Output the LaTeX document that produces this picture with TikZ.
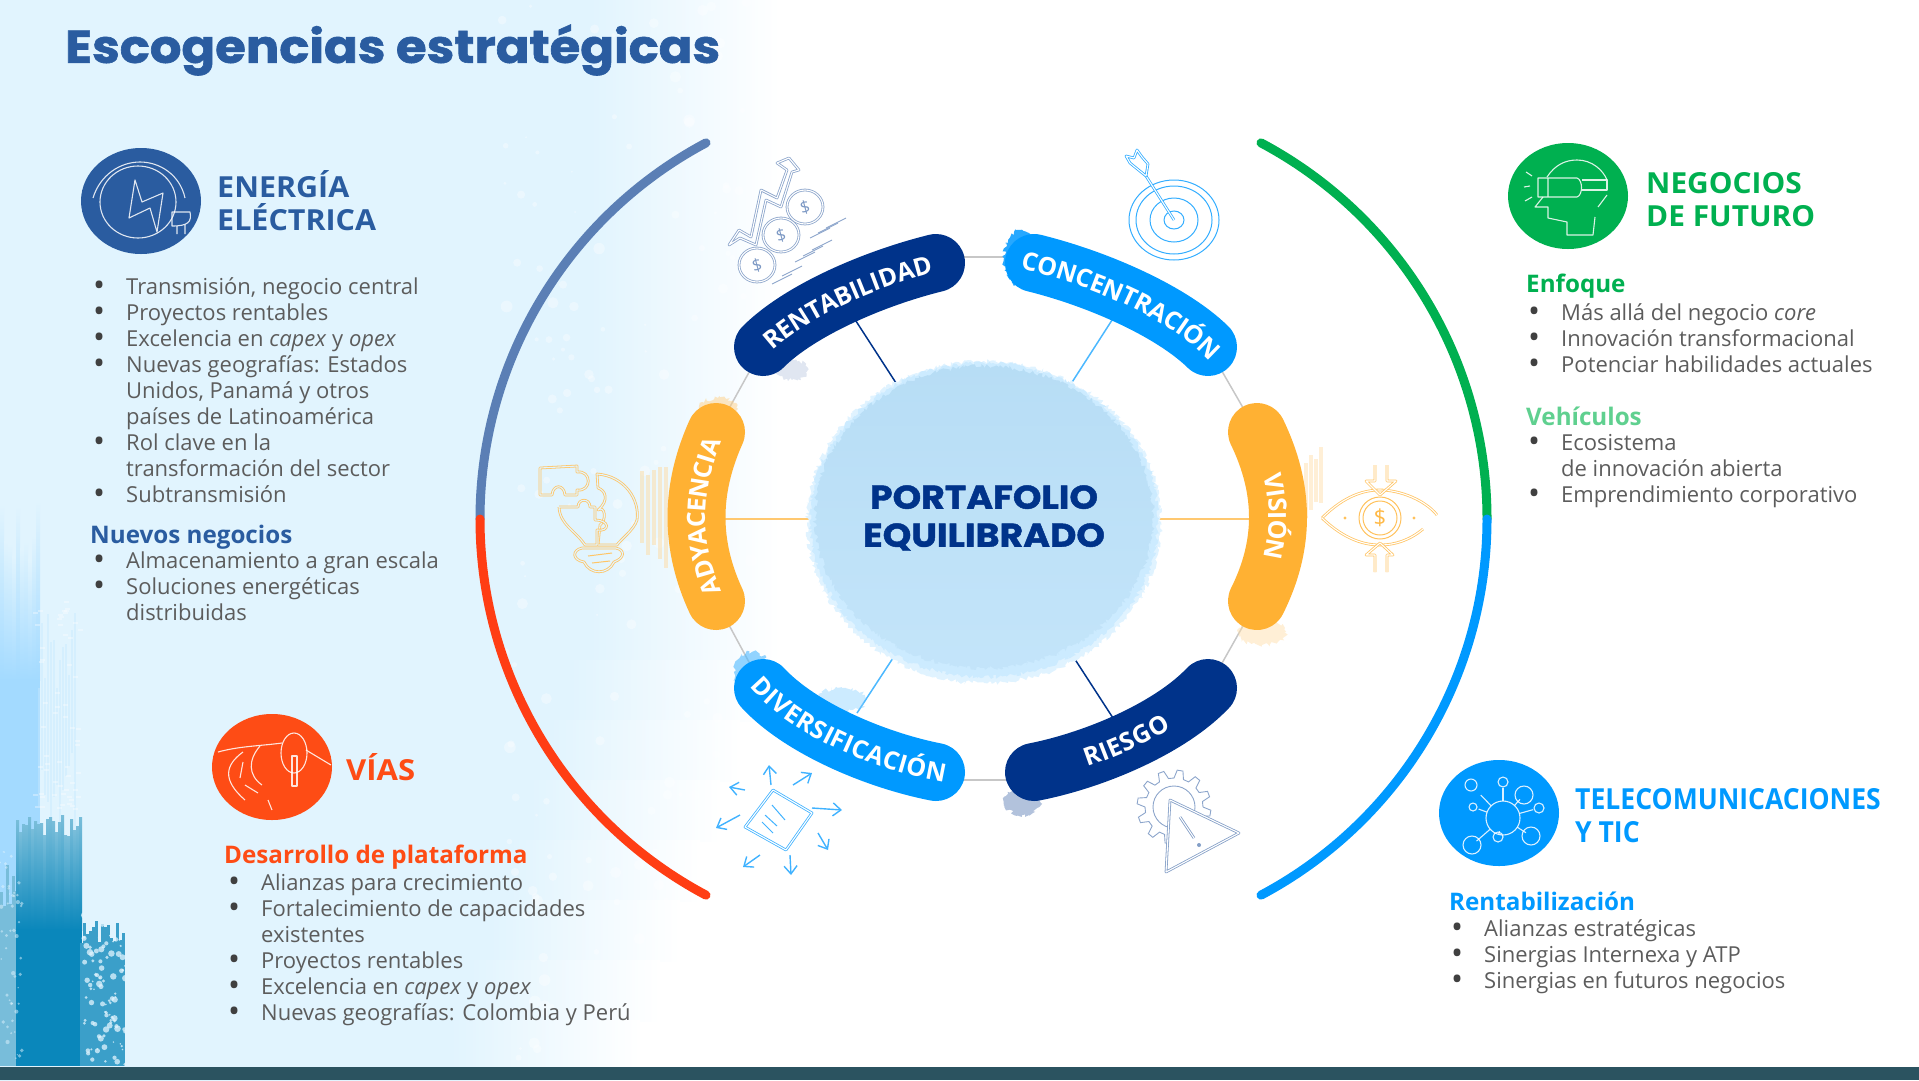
\documentclass[tikz,border=0pt]{standalone}
\usepackage{fontspec}
\setmainfont{Open Sans}
\newfontfamily\titulofont{Poppins}[BoldFeatures={FakeBold=1.3}]
\usetikzlibrary{shapes.geometric,decorations.pathmorphing,decorations.text,arrows.meta,calc}
\definecolor{lavado}{HTML}{E1F4FE}
\definecolor{azultitulo}{HTML}{2A5CA0}
\definecolor{azulgris}{HTML}{5B7FB5}
\definecolor{rojo}{HTML}{FF3D14}
\definecolor{rojovias}{HTML}{FE4C15}
\definecolor{verde}{HTML}{00B050}
\definecolor{verdeclaro}{HTML}{5FD08F}
\definecolor{cielo}{HTML}{0099FF}
\definecolor{marino}{HTML}{00338A}
\definecolor{naranja}{HTML}{FFB133}
\definecolor{gristexto}{HTML}{5C5C5C}
\definecolor{franja}{HTML}{2B5360}
\definecolor{mancha}{HTML}{0A87BB}
\definecolor{bolita}{HTML}{B7DDF5}
\newcommand{\bul}{\makebox[33pt][l]{\raisebox{-2pt}{\textcolor{black!75}{\fontsize{32}{26}\selectfont\textbullet}}}}
\newcommand{\sig}{\hspace*{33pt}}
\tikzset{
    arco/.style = {line width=9pt,line cap=round},
    barra/.style = {line width=58pt,line cap=round},
    rayo/.style = {line width=1.5pt},
    anillo/.style = {line width=1.5pt,color=black!22},
    rotulo/.style = {decorate,decoration={text along path,text align=center,raise=-9pt,
        text={|\fontsize{25}{25}\selectfont\bfseries\color{white}|#1}}},
    lista/.style = {anchor=north west,inner sep=0pt,align=left,text=gristexto,
        font=\fontsize{22}{26}\selectfont},
    titular/.style = {anchor=west,inner sep=0pt,align=left,text=#1,
        font=\fontsize{29}{33}\selectfont\bfseries},
    sub/.style = {anchor=west,inner sep=0pt,text=#1,font=\fontsize{24.2}{26}\selectfont\bfseries},
    disco/.style = {ellipse,inner sep=0pt,minimum width=120pt,minimum height=106pt,fill=#1},
    trazo/.style = {line width=1.1pt,color=white,opacity=.85,line join=round},
    hueco/.style 2 args = {line width=.8pt,color=#1,double=#2,double distance=1.1pt,line join=round},
    brocha/.style = {decorate,decoration={random steps,segment length=2pt,amplitude=2.2pt}}
}
\begin{document}
\begin{tikzpicture}[x=1pt,y=-1pt]
    \useasboundingbox (0,0) rectangle (1919,1080);
    \pgfmathsetseed{17}

    % fondo
    \foreach \f in {0,...,17}{
        \pgfmathsetmacro{\ini}{\f<11 ? 590 : 590-(\f-10)*20}
        \fill[lavado] (0,\f*60) rectangle (\ini,\f*60+61);
        \shade[left color=lavado,right color=white] (\ini,\f*60) rectangle (\ini+190,\f*60+61);
    }
    \foreach \i in {1,...,170}
        \fill[white,opacity=.35] ({500+rnd*260},{rnd*1060}) circle ({1+rnd*5});
    % mancha de la izquierda
    \foreach \x in {0,4,...,36}
        \shade[top color=lavado,bottom color=cielo!36] (\x,{490+rnd*70}) rectangle (\x+4,{680});
    \foreach \x in {0,4,...,36}
        \fill[cielo!36] (\x,679) rectangle (\x+4,1066);
    \foreach \x in {38,41,...,76}
        \fill[cielo!22,opacity=.45] (\x,{600+rnd*90}) rectangle (\x+2,{740+rnd*90});
    \foreach \i in {1,...,60}
        \fill[white,opacity=.35] ({32+rnd*46},{600+rnd*210}) rectangle ++(5,2);
    \foreach \x in {0,3,...,16}
        \fill[mancha!55] (\x,{860+rnd*50}) rectangle (\x+3,1066);
    \foreach \x in {16,19,...,80}
        \shade[top color=mancha!55,bottom color=mancha] (\x,{815+rnd*22}) rectangle (\x+3,930);
    \foreach \x in {16,19,...,80}
        \fill[mancha] (\x,929) rectangle (\x+3,1066);
    \foreach \x in {80,83,...,122}
        \fill[mancha!80] (\x,{900+rnd*45}) rectangle (\x+3,1066);
    \foreach \i in {1,...,110}
        \fill[lavado,opacity=.75] ({84+rnd*44},{905+rnd*160}) circle ({.8+rnd*2.5});
    \foreach \i in {1,...,50}
        \fill[lavado,opacity=.5] ({rnd*22},{850+rnd*210}) circle ({.6+rnd*1.6});
    \fill[franja] (0,1067) rectangle (1919,1080);

    % arcos exteriores
    \coordinate (izq) at (480,519);
    \coordinate (der) at (1487,519);
    \draw[arco,azulgris] (izq) arc[start angle=180,end angle=118,radius=426pt];
    \draw[arco,rojo] (izq) arc[start angle=180,end angle=242,radius=426pt];
    \draw[arco,verde] (der) arc[start angle=0,end angle=62,radius=426pt];
    \draw[arco,cielo] (der) arc[start angle=0,end angle=-62,radius=426pt];

    % extremos de las barras
    \coordinate (rent-a) at (763,347);
    \coordinate (rent-b) at (936,263);
    \coordinate (conc-a) at (1034,263);
    \coordinate (conc-b) at (1208,347);
    \coordinate (vis-a) at (1257,432);
    \coordinate (vis-b) at (1257,601);
    \coordinate (ries-a) at (1034,772);
    \coordinate (ries-b) at (1208,688);
    \coordinate (div-a) at (763,688);
    \coordinate (div-b) at (936,772);
    \coordinate (ady-a) at (716,601);
    \coordinate (ady-b) at (716,432);
    % tramos del anillo y pies de los radios
    \coordinate (arriba-a) at (940,257);
    \coordinate (arriba-b) at (1030,257);
    \coordinate (abajo-a) at (940,780);
    \coordinate (abajo-b) at (1030,780);
    \coordinate (rent-p) at (854,318);
    \coordinate (conc-p) at (1114,317);
    \coordinate (vis-p) at (1250,519);
    \coordinate (ries-p) at (1113,718);
    \coordinate (div-p) at (857,713);
    \coordinate (ady-p) at (725,519);

    % anillo
    \draw[anillo] (arriba-a) -- (arriba-b);
    \draw[anillo] (abajo-a) -- (abajo-b);
    \draw[anillo] (rent-a) -- (ady-b);
    \draw[anillo] (conc-b) -- (vis-a);
    \draw[anillo] (ady-a) -- (div-a);
    \draw[anillo] (vis-b) -- (ries-b);

    % radios
    \node (centro) at (984,519) {};
    \draw[rayo,marino] (rent-p) -- (centro);
    \draw[rayo,cielo!70] (conc-p) -- (centro);
    \draw[rayo,naranja!70] (vis-p) -- (centro);
    \draw[rayo,marino] (ries-p) -- (centro);
    \draw[rayo,cielo!70] (div-p) -- (centro);
    \draw[rayo,naranja!70] (ady-p) -- (centro);

    % circulo central
    \node (borde) [ellipse,minimum width=354pt,minimum height=322pt,fill=cielo!12,brocha] at (984,522) {};
    \node (halo) [ellipse,minimum width=348pt,minimum height=314pt,fill=cielo!20,brocha] at (984,520) {};
    \node (bola) [ellipse,minimum width=338pt,minimum height=302pt,top color=bolita,bottom color=bolita!85!cielo!60,brocha] at (984,517) {};
    \node (lema) [align=center,text=marino,xscale=1.1,font=\titulofont\bfseries\fontsize{33}{38}\selectfont] at (984,518) {PORTAFOLIO\\EQUILIBRADO};

    % manchas
    \fill[cielo!85,brocha] (1022,258) ellipse [x radius=18,y radius=28];
    \fill[marino!55,opacity=.55,brocha] (1022,802) ellipse [x radius=18,y radius=13];
    \fill[cielo!70,opacity=.6,brocha] (752,672) ellipse [x radius=18,y radius=20];
    \fill[cielo!50,opacity=.4,brocha] (842,700) ellipse [x radius=24,y radius=12];
    \fill[marino!40,opacity=.3,brocha] (792,370) ellipse [x radius=16,y radius=10];
    \foreach \x in {640,646,...,664}
        \fill[naranja!50,opacity=.45] (\x,{465+rnd*30}) rectangle (\x+4,{540+rnd*30});
    \foreach \x in {1304,1309,...,1320}
        \fill[naranja!50,opacity=.4] (\x,{445+rnd*25}) rectangle (\x+4,{500+rnd*20});
    \fill[naranja!45,opacity=.45,brocha] (1262,632) ellipse [x radius=24,y radius=13];
    \fill[naranja!60,opacity=.5,brocha] (718,408) ellipse [x radius=18,y radius=10];

    % barras
    \draw[barra,marino] (rent-a) .. controls (800,310) and (875,278) .. (rent-b);
    \draw[barra,cielo] (conc-a) .. controls (1095,278) and (1170,310) .. (conc-b);
    \draw[barra,naranja] (vis-a) .. controls (1285,490) and (1285,545) .. (vis-b);
    \draw[barra,marino] (ries-a) .. controls (1095,760) and (1170,728) .. (ries-b);
    \draw[barra,cielo] (div-a) .. controls (800,728) and (875,760) .. (div-b);
    \draw[barra,naranja] (ady-a) .. controls (690,545) and (690,490) .. (ady-b);
    \path[rotulo=RENTABILIDAD] ($(rent-a)!-30pt!(800,310)$) -- (rent-a) .. controls (800,310) and (875,278) .. (rent-b) -- ($(rent-b)!-30pt!(875,278)$);
    \path[rotulo=CONCENTRACIÓN] ($(conc-a)!-30pt!(1095,278)$) -- (conc-a) .. controls (1095,278) and (1170,310) .. (conc-b) -- ($(conc-b)!-30pt!(1170,310)$);
    \path[rotulo=VISIÓN] ($(vis-a)!-30pt!(1285,490)$) -- (vis-a) .. controls (1285,490) and (1285,545) .. (vis-b) -- ($(vis-b)!-30pt!(1285,545)$);
    \path[rotulo=RIESGO] ($(ries-a)!-30pt!(1095,760)$) -- (ries-a) .. controls (1095,760) and (1170,728) .. (ries-b) -- ($(ries-b)!-30pt!(1170,728)$);
    \path[rotulo=DIVERSIFICACIÓN] ($(div-a)!-30pt!(800,728)$) -- (div-a) .. controls (800,728) and (875,760) .. (div-b) -- ($(div-b)!-30pt!(875,760)$);
    \path[rotulo=ADYACENCIA] ($(ady-a)!-30pt!(690,545)$) -- (ady-a) .. controls (690,545) and (690,490) .. (ady-b) -- ($(ady-b)!-30pt!(690,490)$);

    % iconos de las barras
    \tikzstyle{ic}=[hueco={azulgris!70}{white}]
    \draw[ic] (729,245) -- (739,230) -- (751,237) -- (761,190) -- (777,198) -- (787,170) -- (777,163) -- (789,158) -- (799,170) -- (792,172) -- (781,207) -- (766,200) -- (756,245) -- (740,238) -- cycle;
    \foreach \x/\y/\n in {757/265/a,781/235/b,805/207/c}{
        \draw[ic,fill=white] (\x,\y) ellipse [x radius=18,y radius=17];
        \node (mon\n) [text=azulgris!80,font=\fontsize{17}{17}\selectfont,rotate=15] at (\x,\y) {\$};
    }
    \foreach \x/\y in {772/284,782/276,795/262,803/256,812/250,810/238,818/233,826/228}
        \draw[azulgris!70,line width=.9pt] (\x,\y) -- ++(20,-10);

    \tikzstyle{ic}=[hueco={cielo!80}{white}]
    \foreach \r/\s in {45/40,38/34,24/22,10/9}
        \draw[cielo!80,line width=1pt] (1174,220) ellipse [x radius=\r,y radius=\s];
    \draw[ic] (1174,220) -- (1146,176);
    \draw[ic] (1146,176) -- (1130,163) -- (1126,156) -- (1134,158) -- (1137,150) -- (1142,157) -- (1148,164) -- cycle;

    \tikzstyle{ic}=[hueco={naranja!75}{lavado}]
    \draw[ic] (540,468) -- (577,466) -- (577,472) .. controls (592,470) and (592,492) .. (577,490) -- (577,495) -- (565,495) .. controls (564,484) and (553,484) .. (552,495) -- (540,495) -- cycle;
    \draw[ic] (597,474) .. controls (625,476) and (640,500) .. (637,520) .. controls (634,530) and (620,540) .. (617,545) -- (598,545) -- (600,525) .. controls (607,520) and (605,505) .. (598,510) .. controls (610,500) and (605,490) .. (598,488) -- cycle;
    \draw[ic] (559,507) -- (578,507) .. controls (578,498) and (590,498) .. (590,507) -- (595,507) -- (595,520) .. controls (610,520) and (610,532) .. (597,530) -- (597,545) -- (585,545) .. controls (575,530) and (560,525) .. (559,507);
    \draw[ic] (582,548) .. controls (572,550) and (572,560) .. (584,562) .. controls (590,575) and (608,575) .. (614,562) .. controls (625,558) and (625,550) .. (616,548) -- cycle;
    \draw[naranja!75,line width=1pt] (588,556) -- (612,553) (592,563) -- (610,561);

    \tikzstyle{ic}=[hueco={naranja!75}{white}]
    \draw[ic] (1322,518) .. controls (1345,495) and (1365,490) .. (1380,490) .. controls (1400,490) and (1425,500) .. (1437,515);
    \draw[ic] (1322,518) .. controls (1345,540) and (1365,545) .. (1380,545) .. controls (1395,545) and (1410,540) .. (1423,529);
    \foreach \r in {21,17}
        \draw[naranja!80,line width=1pt] (1380,518) circle (\r);
    \node (ojo) [text=naranja!90,font=\fontsize{22}{22}\selectfont] at (1380,518) {\$};
    \draw[ic] (1375,465) -- (1375,481) -- (1366,481) -- (1380,495) -- (1396,481) -- (1387,481) -- (1387,465);
    \draw[ic] (1375,572) -- (1375,555) -- (1366,555) -- (1380,543) -- (1393,555) -- (1387,555) -- (1387,572);
    \fill[naranja!80] (1345,518) circle (1.6) (1414,518) circle (1.6);

    \tikzstyle{ic}=[hueco={cielo!75}{white}]
    \draw[ic] (773,790) -- (812,813) -- (786,850) -- (745,827) -- cycle;
    \draw[cielo!75,line width=1pt] (772,805) -- (785,820) (765,815) -- (777,826) (762,822) -- (773,833);
    \foreach \xa/\ya/\xb/\yb in {771/785/769/765,793/785/812/773,812/808/842/810,818/833/828/850,790/855/791/875,760/855/743/867,740/815/716/828,745/790/729/787}
        \draw[cielo!75,line width=1.4pt,-{Straight Barb[length=8pt,width=13pt]}] (\xa,\ya) -- (\xb,\yb);

    \begin{scope}[shift={(1174,807)}]
        \draw[azulgris!70,line width=.9pt] (0:29) \foreach \a in {0,30,...,330} { -- (\a+5:37) -- (\a+14:37) -- (\a+19:29) -- (\a+30:29)};
        \draw[azulgris!70,line width=.9pt] (0,0) circle (21);
    \end{scope}
    \tikzstyle{ic}=[hueco={azulgris!75}{white}]
    \draw[ic,fill=white] (1170,800) -- (1239,833) -- (1166,872) -- cycle;
    \draw[ic] (1180,817) -- (1194,838);
    \fill[azulgris!75] (1199,845) circle (2);

    % discos
    \node (enerdisco) [disco=azultitulo] at (141,201) {};
    \draw[trazo] (93,198) .. controls (100,175) and (120,162) .. (140,162) .. controls (160,162) and (180,175) .. (185,198);
    \draw[trazo] (138,202) ellipse [x radius=38,y radius=36];
    \draw[trazo] (135,180) -- (142,202) -- (163,193) -- (157,232) -- (150,208) -- (129,218) -- cycle;
    \draw[trazo] (172,212) -- (190,212) .. controls (192,222) and (188,226) .. (172,226) -- cycle (177,226) -- (177,234) (185,224) -- (185,234);

    \node (futdisco) [disco=verde] at (1568,196) {};
    \draw[trazo] (1547,177) .. controls (1555,165) and (1565,160) .. (1577,160) .. controls (1592,160) and (1603,170) .. (1607,180);
    \draw[trazo] (1538,178) -- (1577,178) .. controls (1583,180) and (1583,195) .. (1577,197) -- (1538,197) -- cycle (1548,178) -- (1548,197);
    \draw[trazo] (1582,180) -- (1607,180) -- (1607,190) -- (1582,190);
    \draw[trazo] (1543,197) -- (1535,207) -- (1548,207) -- (1548,218) -- (1567,222) -- (1567,235) -- (1593,235) -- (1595,217);
    \draw[trazo] (1607,195) -- (1598,207);
    \draw[trazo] (1526,172) -- (1532,176) (1524,187) -- (1530,186) (1525,201) -- (1532,197);

    \node (viadisco) [disco=rojovias] at (272,767) {};
    \draw[trazo] (218,752) .. controls (240,746) and (260,746) .. (282,743);
    \draw[trazo] (294,753) ellipse [x radius=13,y radius=20];
    \draw[trazo] (292,756) -- (292,786) -- (297,786) -- (297,756) -- cycle;
    \draw[trazo] (306,750) -- (331,765);
    \draw[trazo] (243,752) .. controls (225,765) and (222,780) .. (245,800);
    \draw[trazo] (243,762) -- (240,778);
    \draw[trazo] (245,785) -- (258,793) (268,800) -- (272,810);
    \draw[trazo] (260,746) .. controls (248,760) and (248,775) .. (262,785);

    \node (teledisco) [disco=cielo] at (1499,813) {};
    \foreach \x/\y/\r/\n in {1471/785/6/a,1503/782/5/b,1524/795/9/c,1539/808/5/d,1531/836/9/e,1498/837/5/f,1472/845/9/g,1473/807/4/h}{
        \coordinate (hoja\n) at (\x,\y);
        \draw[trazo] (\x,\y) circle (\r);
    }
    \coordinate (nucleo) at (1503,818);
    \draw[trazo] (nucleo) circle (17);
    \foreach \n in {b,c,d,e,f,g,h}
        \draw[trazo,shorten >=6pt,shorten <=17pt] (nucleo) -- (hoja\n);
    \draw[trazo,shorten >=14pt,shorten <=17pt] (nucleo) -- (hojaa);

    % textos
    \node (titulo) [anchor=west,inner sep=0pt,text=azultitulo,xscale=1.08,font=\titulofont\bfseries\fontsize{46}{50}\selectfont] at (65,50) {Escogencias estratégicas};

    \node (ener) [titular=azultitulo,xscale=1.05] at (217,201) {ENERGÍA\\ELÉCTRICA};
    \node (enerlista) [lista] at (93,277) {\bul Transmisión, negocio central\\
        \bul Proyectos rentables\\
        \bul Excelencia en \textit{capex} y \textit{opex}\\
        \bul Nuevas geografías: Estados\\
        \sig Unidos, Panamá y otros\\
        \sig países de Latinoamérica\\
        \bul Rol clave en la\\
        \sig transformación del sector\\
        \bul Subtransmisión};
    \node (nuevos) [sub=azultitulo] at (90,537) {Nuevos negocios};
    \node (nuevoslista) [lista] at (93,552) {\bul Almacenamiento a gran escala\\
        \bul Soluciones energéticas\\
        \sig distribuidas};

    \node (via) [titular=rojovias,xscale=1.07] at (346,767) {VÍAS};
    \node (desarrollo) [sub=rojovias] at (224,857) {Desarrollo de plataforma};
    \node (vialista) [lista] at (228,874) {\bul Alianzas para crecimiento\\
        \bul Fortalecimiento de capacidades\\
        \sig existentes\\
        \bul Proyectos rentables\\
        \bul Excelencia en \textit{capex} y \textit{opex}\\
        \bul Nuevas geografías: Colombia y Perú};

    \node (fut) [titular=verde,xscale=1.03] at (1646,200) {NEGOCIOS\\DE FUTURO};
    \node (enfoque) [sub=verde] at (1526,286) {Enfoque};
    \node (enfoquelista) [lista] at (1528,303) {\bul Más allá del negocio \textit{core}\\
        \bul Innovación transformacional\\
        \bul Potenciar habilidades actuales};
    \node (vehiculos) [sub=verdeclaro] at (1526,416) {Vehículos};
    \node (vehiculoslista) [lista] at (1528,434) {\bul Ecosistema\\
        \sig de innovación abierta\\
        \bul Emprendimiento corporativo};

    \node (tele) [titular=cielo,xscale=.915] at (1575,816) {TELECOMUNICACIONES\\Y TIC};
    \node (rentab) [sub=cielo] at (1449,901) {Rentabilización};
    \node (telelista) [lista] at (1451,919) {\bul Alianzas estratégicas\\
        \bul Sinergias Internexa y ATP\\
        \bul Sinergias en futuros negocios};
\end{tikzpicture}
\end{document}
